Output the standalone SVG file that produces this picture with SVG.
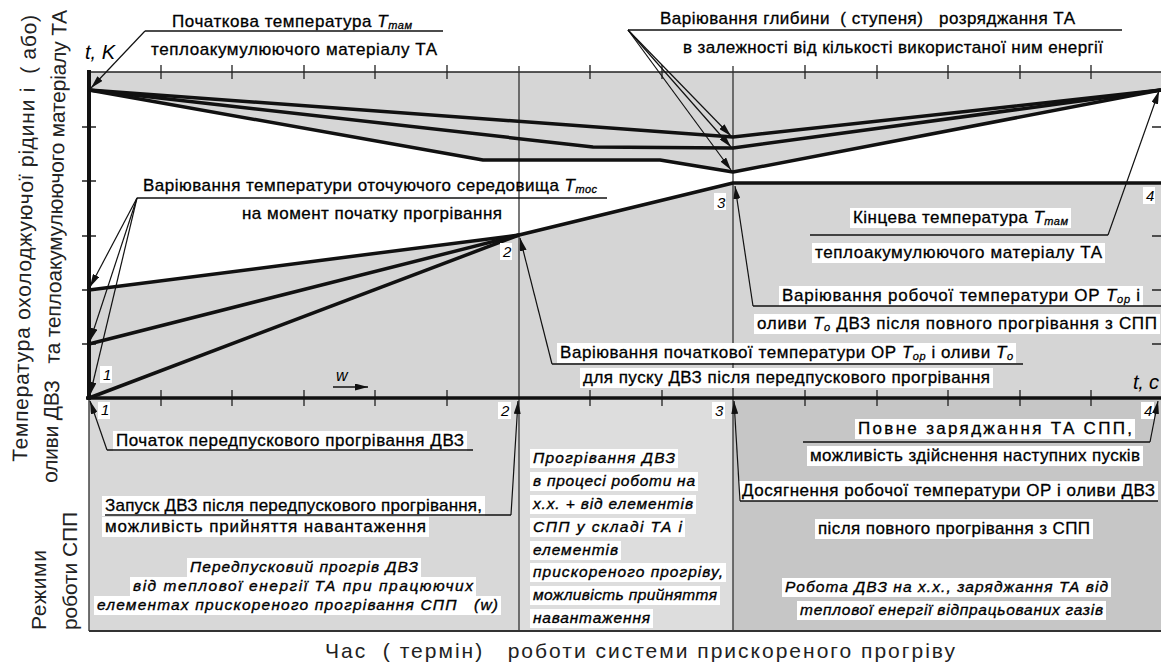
<svg xmlns="http://www.w3.org/2000/svg" width="1161" height="672" viewBox="0 0 1161 672">
<defs>
<marker id="ah" markerUnits="userSpaceOnUse" markerWidth="13" markerHeight="7" viewBox="0 0 13 7" refX="13" refY="3.5" orient="auto"><path d="M0,0 L13,3.5 L0,7 z" fill="#111"/></marker>
<style>
text{font-family:"Liberation Sans",Arial,sans-serif;fill:#000}
.lb{font-size:17px;stroke:#000;stroke-width:0.3}
.it{font-style:italic}
.sub{font-style:italic;font-size:11px}
.ib{font-size:15.5px;font-style:italic;stroke:#000;stroke-width:0.35}
.bg{fill:#fff}
.ul{stroke:#111;stroke-width:1.5;fill:none}
.ld{stroke:#111;stroke-width:1.2;fill:none;marker-end:url(#ah)}
.th{stroke:#111;stroke-width:3.5;fill:none;stroke-linejoin:round}
.tk{stroke:#222;stroke-width:1.3;fill:none}
.ax{font-size:21px;fill:#222}
.num{font-size:15px;font-style:italic}
</style>
</defs>
<rect width="1161" height="672" fill="#fff"/>
<g id="fills">
<polygon points="89,72 1161,72 1161,90 733,172 660,160 483,160 89,90" fill="#d6d6d6"/>
<polygon points="89,290 519,235 733,183 1161,183 1161,398 89,398" fill="#d5d5d5"/>
<rect x="89" y="398" width="430" height="233" fill="#d8d8d8"/>
<rect x="519" y="398" width="214" height="233" fill="#dddddd"/>
<rect x="733" y="398" width="428" height="233" fill="#c6c6c6"/>
</g>
<g id="grid">
<path class="tk" d="M89,72H1161"/>
<path class="tk" d="M161,65V79M232,65V79M304,65V79M375,65V79M447,65V79M590,65V79M662,65V79M805,65V79M877,65V79M948,65V79M1020,65V79M1091,65V79"/>
<path class="tk" d="M161,390V406M232,390V406M304,390V406M375,390V406M447,390V406M590,390V406M662,390V406M805,390V406M877,390V406M948,390V406M1020,390V406M1091,390V406"/>
<path class="tk" d="M82,127H96M82,181H96M82,236H96M82,290H96M82,344H96"/>
<path class="tk" d="M1152,127H1161M1152,236H1161M1152,290H1161M1152,344H1161"/>
<path stroke="#333" stroke-width="1.3" d="M519,66V631M733,66V631"/>
<path stroke="#444" stroke-width="1.5" d="M89,398V631"/>
<path stroke="#333" stroke-width="2" d="M89,631H1161"/>
<path stroke="#111" stroke-width="4" d="M89,70V400"/>
<path stroke="#111" stroke-width="3.5" d="M86,398H1161"/>
</g>
<g id="curves">
<path class="th" d="M89,90L733,137L1161,90"/>
<path class="th" d="M89,90L593,147L733,148L1161,90"/>
<path class="th" d="M89,90L483,160L660,160L733,172L1161,90"/>
<path class="th" d="M89,290L519,235"/>
<path class="th" d="M89,344L519,235"/>
<path class="th" d="M89,398L519,235"/>
<path class="th" d="M519,235L733,183L1161,183"/>
</g>
<g id="axis-labels">
<text class="it" x="85" y="59" font-size="20" textLength="30">t, K</text>
<text class="it" x="1133" y="389" font-size="20" textLength="26">t, c</text>
<text class="it" x="336" y="381" font-size="16">w</text>
<path stroke="#111" stroke-width="1.3" marker-end="url(#ah)" d="M333,387H368"/>
<text class="ax" transform="translate(27,462) rotate(-88.8)" textLength="447" xml:space="preserve">Температура охолоджуючої рідини і  ( або)</text>
<text class="ax" transform="translate(57,483) rotate(-88.8)" textLength="473" xml:space="preserve">оливи ДВЗ   та теплоакумулюючого матеріалу ТА</text>
<text class="ax" transform="translate(46,630) rotate(-90)" textLength="80">Режими</text>
<text class="ax" transform="translate(77,630) rotate(-90)" textLength="118">роботи СПП</text>
<text class="ax" x="325" y="658" textLength="630" xml:space="preserve">Час  ( термін)   роботи системи прискореного прогріву</text>
</g>
<g id="points">
<rect class="bg" x="100" y="366" width="12" height="17"/><text class="num" x="103" y="380">1</text>
<rect class="bg" x="98" y="402" width="12" height="17"/><text class="num" x="101" y="415">1</text>
<rect class="bg" x="500" y="243" width="12" height="17"/><text class="num" x="503" y="257">2</text>
<rect class="bg" x="498" y="402" width="13" height="17"/><text class="num" x="501" y="416">2</text>
<rect class="bg" x="714" y="193" width="12" height="17"/><text class="num" x="717" y="208">3</text>
<rect class="bg" x="712" y="402" width="13" height="17"/><text class="num" x="715" y="416">3</text>
<rect class="bg" x="1143" y="187" width="12" height="17"/><text class="num" x="1146" y="201">4</text>
<rect class="bg" x="1141" y="402" width="13" height="17"/><text class="num" x="1144" y="416">4</text>
</g>
<g id="n-tam-start">
<text class="lb" x="172" y="27" textLength="240">Початкова температура <tspan class="it">T</tspan><tspan class="sub" dy="2">там</tspan></text>
<text class="lb" x="151" y="55" textLength="286">теплоакумулюючого матеріалу ТА</text>
<path class="ul" d="M145,31H443"/>
</g>
<g id="n-depth">
<text class="lb" x="660" y="24" textLength="415" xml:space="preserve">Варіювання глибини  ( ступеня)   розряджання ТА</text>
<text class="lb" x="683" y="53" textLength="420">в залежності від кількості використаної ним енергії</text>
<path class="ul" d="M628,30H1122"/>
</g>
<g id="n-env">
<text class="lb" x="143" y="191" textLength="454">Варіювання температури оточуючого середовища <tspan class="it">T</tspan><tspan class="sub" dy="2">тос</tspan></text>
<text class="lb" x="242" y="219" textLength="260">на момент початку прогрівання</text>
<path class="ul" d="M137,198H607"/>
</g>
<g id="n-init">
<rect class="bg" x="557" y="343" width="459" height="20"/>
<rect class="bg" x="580" y="368" width="413" height="20"/>
<text class="lb" x="560" y="358" textLength="453">Варіювання початкової температури ОР <tspan class="it">T</tspan><tspan class="sub" dy="2">ор</tspan><tspan dy="-2"> і оливи </tspan><tspan class="it">T</tspan><tspan class="sub" dy="2">о</tspan></text>
<text class="lb" x="583" y="383" textLength="407">для пуску ДВЗ після передпускового прогрівання</text>
<path class="ul" d="M552,364H1023"/>
</g>
<g id="n-tam-end">
<rect class="bg" x="850" y="208" width="221" height="20"/>
<rect class="bg" x="812" y="243" width="293" height="20"/>
<text class="lb" x="853" y="223" textLength="215">Кінцева температура <tspan class="it">T</tspan><tspan class="sub" dy="2">там</tspan></text>
<text class="lb" x="815" y="258" textLength="287">теплоакумулюючого матеріалу ТА</text>
<path class="ul" d="M810,235H1108"/>
</g>
<g id="n-work">
<rect class="bg" x="779" y="286" width="364" height="20"/>
<rect class="bg" x="754" y="314" width="406" height="20"/>
<text class="lb" x="782" y="301" textLength="358">Варіювання робочої температури ОР <tspan class="it">T</tspan><tspan class="sub" dy="2">ор</tspan><tspan dy="-2"> і</tspan></text>
<text class="lb" x="757" y="329" textLength="400">оливи <tspan class="it">T</tspan><tspan class="sub" dy="2">о</tspan><tspan dy="-2">  ДВЗ після повного прогрівання з СПП</tspan></text>
<path class="ul" d="M753,306H1161"/>
</g>
<g id="n-start">
<rect class="bg" x="113" y="431" width="354" height="20"/>
<text class="lb" x="116" y="446" textLength="348">Початок передпускового прогрівання ДВЗ</text>
<path class="ul" d="M107,450H473"/>
</g>
<g id="n-launch">
<rect class="bg" x="102" y="496" width="383" height="20"/>
<rect class="bg" x="102" y="517" width="327" height="20"/>
<text class="lb" x="105" y="511" textLength="377">Запуск ДВЗ після передпускового прогрівання,</text>
<text class="lb" x="105" y="532" textLength="321">можливість прийняття навантаження</text>
<path class="ul" d="M105,515H511"/>
</g>
<g id="n-prestart-mode">
<rect class="bg" x="187" y="558" width="234" height="19"/>
<rect class="bg" x="130" y="577" width="346" height="19"/>
<rect class="bg" x="94" y="596" width="407" height="19"/>
<text class="ib" x="190" y="572" textLength="228">Передпусковий прогрів ДВЗ</text>
<text class="ib" x="133" y="591" textLength="340">від теплової енергії ТА при працюючих</text>
<text class="ib" x="97" y="610" textLength="401" xml:space="preserve">елементах прискореного прогрівання СПП   (w)</text>
</g>
<g id="n-idle-mode">
<rect class="bg" x="530" y="449" width="148" height="19"/>
<rect class="bg" x="530" y="472" width="168" height="19"/>
<rect class="bg" x="530" y="495" width="166" height="19"/>
<rect class="bg" x="530" y="518" width="155" height="19"/>
<rect class="bg" x="530" y="541" width="91" height="19"/>
<rect class="bg" x="530" y="563" width="196" height="19"/>
<rect class="bg" x="530" y="586" width="190" height="19"/>
<rect class="bg" x="530" y="609" width="123" height="19"/>
<text class="ib" x="533" y="463" textLength="142">Прогрівання ДВЗ</text>
<text class="ib" x="533" y="486" textLength="162">в процесі роботи на</text>
<text class="ib" x="533" y="509" textLength="160">х.х. + від елементів</text>
<text class="ib" x="533" y="532" textLength="149">СПП у складі ТА і</text>
<text class="ib" x="533" y="555" textLength="85">елементів</text>
<text class="ib" x="533" y="577" textLength="190">прискореного прогріву,</text>
<text class="ib" x="533" y="600" textLength="184">можливість прийняття</text>
<text class="ib" x="533" y="623" textLength="117">навантаження</text>
</g>
<g id="n-charge">
<rect class="bg" x="855" y="419" width="280" height="20"/>
<rect class="bg" x="807" y="446" width="336" height="20"/>
<text class="lb" x="858" y="434" textLength="274">Повне заряджання ТА СПП,</text>
<text class="lb" x="810" y="461" textLength="330">можливість здійснення наступних пусків</text>
<path class="ul" d="M803,442H1150"/>
</g>
<g id="n-reach">
<rect class="bg" x="739" y="481" width="419" height="20"/>
<rect class="bg" x="815" y="519" width="278" height="20"/>
<text class="lb" x="742" y="496" textLength="413">Досягнення робочої температури ОР і оливи ДВЗ</text>
<text class="lb" x="818" y="534" textLength="272">після повного прогрівання з СПП</text>
<path class="ul" d="M740,501H1158"/>
</g>
<g id="n-charge-mode">
<rect class="bg" x="782" y="578" width="329" height="19"/>
<rect class="bg" x="797" y="601" width="309" height="19"/>
<text class="ib" x="785" y="592" textLength="323">Робота ДВЗ на х.х., заряджання ТА від</text>
<text class="ib" x="800" y="615" textLength="303">теплової енергії відпрацьованих газів</text>
</g>
<g id="connectors">
<path class="ld" d="M145,31L91,88"/>
<path class="ld" d="M628,30L731,136"/>
<path class="ld" d="M628,30L731,147"/>
<path class="ld" d="M628,30L731,170"/>
<path class="ld" d="M137,198L90,287"/>
<path class="ld" d="M137,198L90,341"/>
<path class="ld" d="M137,198L90,395"/>
<path class="ld" d="M552,364L520,238"/>
<path class="ld" d="M1108,235L1159,91"/>
<path class="ld" d="M753,306L735,186"/>
<path class="ld" d="M107,450L90,401"/>
<path class="ld" d="M511,515L518,401"/>
<path class="ld" d="M740,501L734,401"/>
<path class="ld" d="M1150,442L1158,401"/>
</g>
</svg>
